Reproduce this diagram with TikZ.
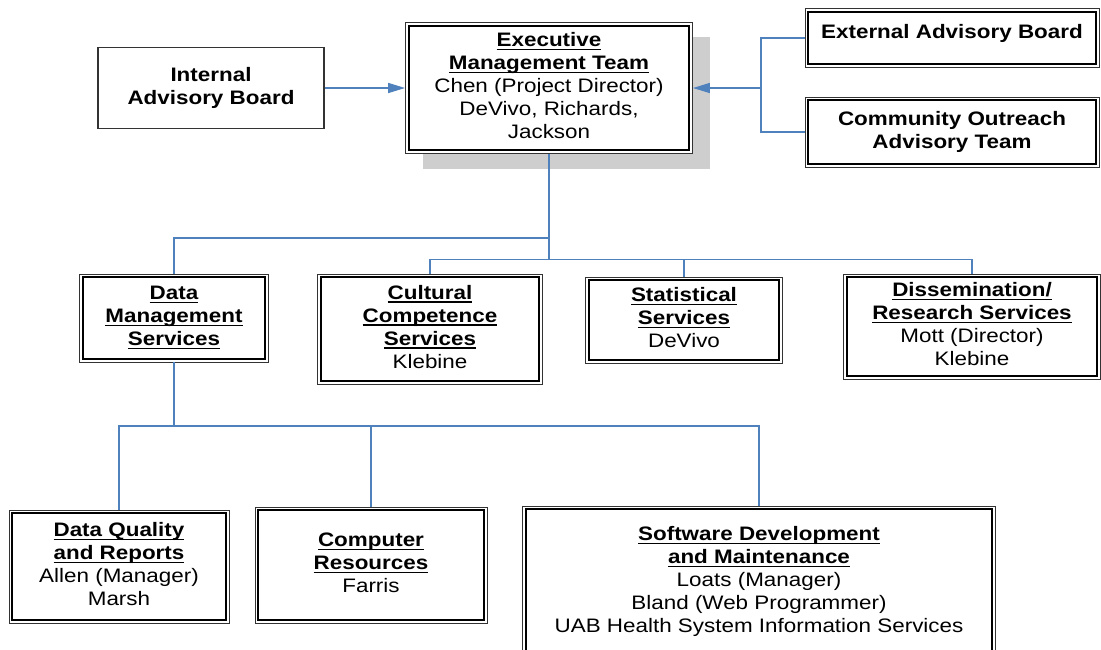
\documentclass[tikz,border=0pt]{standalone}
\usepackage{fontspec}
\usepackage{graphicx}
\usetikzlibrary{arrows.meta}
\newfontfamily\orgfont{Liberation Sans}
\definecolor{lineblue}{RGB}{79,129,189}
\definecolor{shadowgray}{RGB}{206,206,206}
\newcommand\sx[1]{\scalebox{1.15}[1]{\begin{tabular}{@{}c@{}}#1\end{tabular}}}
\newcommand\ulx[1]{\setbox0\hbox{\textbf{#1}}\rlap{\rule[-3.6pt]{\wd0}{1.6pt}}\box0}
\tikzset{
  orgbox/.style={draw=black!80, line width=0.9pt, fill=white, inner sep=0pt, align=center,
    font=\orgfont\fontsize{19.5}{23}\selectfont},
  dbox/.style={orgbox,
    path picture={\draw[line width=1.8pt, black]
      ([shift={(3.3pt,-3.3pt)}]path picture bounding box.north west) rectangle
      ([shift={(-3.3pt,3.3pt)}]path picture bounding box.south east);}},
  conn/.style={draw=lineblue, line width=1.5pt},
  trunk/.style={conn, line width=2pt},
  arr/.style={conn, -{Triangle[length=17pt,width=10pt]}}
}
\begin{document}
\begin{tikzpicture}[x=1pt,y=-1pt]
\clip (0,0) rectangle (1101,649);
\fill[white] (0,0) rectangle (1101,649);
% shadow of executive box
\fill[shadowgray] (423,37) rectangle (710,169);
% top row
\node[orgbox, line width=1.4pt, minimum width=226, minimum height=81] (iab) at (211,88)
  {\sx{\textbf{Internal}\\\textbf{Advisory Board}}};
\node[dbox, minimum width=287, minimum height=131] (exec) at (549,88)
  {\sx{\ulx{Executive}\\\ulx{Management Team}\\Chen (Project Director)\\DeVivo, Richards,\\Jackson}};
\node[dbox, minimum width=294, minimum height=59] (ext) at (952,38)
  {\sx{\textbf{External Advisory Board}\\[9pt]}};
\node[dbox, minimum width=294, minimum height=70] (com) at (952,132)
  {\sx{\textbf{Community Outreach}\\\textbf{Advisory Team}}};
% second row
\node[dbox, minimum width=189, minimum height=88] (dms) at (174,318)
  {\sx{\ulx{Data}\\\ulx{Management}\\\ulx{Services}}};
\node[dbox, minimum width=225, minimum height=110] (ccs) at (430,329)
  {\sx{\ulx{Cultural}\\\ulx{Competence}\\\ulx{Services}\\Klebine}};
\node[dbox, minimum width=197, minimum height=86] (ss) at (684,320)
  {\sx{\ulx{Statistical}\\\ulx{Services}\\DeVivo}};
\node[dbox, minimum width=257, minimum height=105] (drs) at (972,326.5)
  {\sx{\ulx{Dissemination/}\\\ulx{Research Services}\\Mott (Director)\\Klebine}};
% third row
\node[dbox, minimum width=220, minimum height=113] (dqr) at (119,566.5)
  {\sx{\ulx{Data Quality}\\\ulx{and Reports}\\Allen (Manager)\\Marsh}};
\node[dbox, minimum width=232, minimum height=116] (cr) at (371,565)
  {\sx{\ulx{Computer}\\\ulx{Resources}\\Farris}};
\node[dbox, minimum width=473, minimum height=152] (sdm) at (759,582)
  {\sx{\ulx{Software Development}\\\ulx{and Maintenance}\\Loats (Manager)\\Bland (Web Programmer)\\UAB Health System Information Services}};
% connectors top
\draw[arr] (iab) -- (exec);
\coordinate (jr) at (761,88);
\draw[conn] (ext.west) -| (jr);
\draw[conn] (com.west) -| (jr);
\draw[arr] (jr) -- (exec.east);
% connectors level 2
\coordinate (j1) at (549,238);
\coordinate (j2) at (549,260);
\draw[trunk] (exec.south) -- (j2);
\draw[conn] (j1) -| (dms.north);
\draw[conn] (ccs.north) -- ++(0,-14) -| (drs.north);
\draw[conn] (ss.north) -- (ss.north |- j2);
% connectors level 3
\coordinate (j3) at (174,426);
\draw[trunk] (dms.south) -- (j3);
\draw[conn] (dqr.north) |- (j3);
\draw[conn] (j3) -| (sdm.north);
\draw[conn] (cr.north) -- (cr.north |- j3);
\end{tikzpicture}
\end{document}
